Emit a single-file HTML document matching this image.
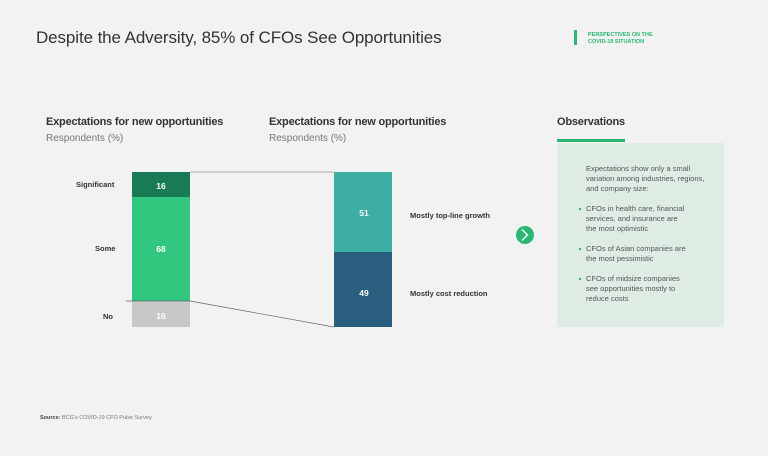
<!DOCTYPE html>
<html><head><style>
body{margin:0;width:768px;height:456px;background:#f2f2f2;font-family:"Liberation Sans",sans-serif;position:relative;overflow:hidden}
div{position:absolute}
.h{font-weight:bold;font-size:11px;color:#333;letter-spacing:-0.2px}
.s{font-size:10px;color:#777}
.l{font-size:7.5px;font-weight:bold;color:#333}
.o{font-size:7.5px;color:#555;line-height:10px}
</style></head><body>
<div style="left:36px;top:28px;font-size:17px;color:#333;letter-spacing:-0.1px">Despite the Adversity, 85% of CFOs See Opportunities</div>
<div style="left:574px;top:30px;width:3px;height:15px;background:#2bb673"></div>
<div style="left:588px;top:32px;font-size:5.5px;font-weight:bold;color:#2bb673;line-height:7px">PERSPECTIVES ON THE<br>COVID-19 SITUATION</div>
<div class="h" style="left:46px;top:116px">Expectations for new opportunities</div>
<div class="s" style="left:46px;top:133px">Respondents (%)</div>
<div class="h" style="left:269px;top:116px">Expectations for new opportunities</div>
<div class="s" style="left:269px;top:133px">Respondents (%)</div>
<div class="l" style="left:76px;top:180px">Significant</div>
<div class="l" style="left:95px;top:244px">Some</div>
<div class="l" style="left:103px;top:312px">No</div>
<svg style="position:absolute;left:0;top:0" width="768" height="456">
<rect x="132" y="172" width="58" height="25" fill="#197a56"/>
<rect x="132" y="197" width="58" height="104" fill="#32c77f"/>
<rect x="132" y="301" width="58" height="26" fill="#c8c8c8"/>
<rect x="334" y="172" width="58" height="80" fill="#3eada3"/>
<rect x="334" y="252" width="58" height="75" fill="#295e7e"/>
<line x1="190" y1="172" x2="334" y2="172" stroke="#999" stroke-width="0.7"/>
<line x1="126" y1="301" x2="190" y2="301" stroke="#666" stroke-width="0.7"/>
<line x1="190" y1="301" x2="334" y2="327" stroke="#666" stroke-width="0.7"/>
<g fill="#fff" font-size="8.5" font-weight="bold" text-anchor="middle" font-family="Liberation Sans">
<text x="161" y="189">16</text><text x="161" y="252">68</text><text x="161" y="319">16</text>
<text x="364" y="216">51</text><text x="364" y="296">49</text></g>
<circle cx="525" cy="235" r="9" fill="#2bb673"/>
<polyline points="522,229.5 527.5,235 522,240.5" fill="none" stroke="#fff" stroke-width="1.3"/>
</svg>
<div class="l" style="left:410px;top:211px">Mostly top-line growth</div>
<div class="l" style="left:410px;top:289px">Mostly cost reduction</div>
<div class="h" style="left:557px;top:116px">Observations</div>
<div style="left:557px;top:139px;width:68px;height:3px;background:#2bb673"></div>
<div style="left:557px;top:143px;width:167px;height:184px;background:#dfece4"></div>
<div class="o" style="left:586px;top:164px">Expectations show only a small<br>variation among industries, regions,<br>and company size:</div>
<div class="o" style="left:586px;top:204px">CFOs in health care, financial<br>services, and insurance are<br>the most optimistic</div>
<div class="o" style="left:586px;top:244px">CFOs of Asian companies are<br>the most pessimistic</div>
<div class="o" style="left:586px;top:274px">CFOs of midsize companies<br>see opportunities mostly to<br>reduce costs</div>
<div style="left:579px;top:208px;width:2px;height:2px;background:#2bb673"></div>
<div style="left:579px;top:248px;width:2px;height:2px;background:#2bb673"></div>
<div style="left:579px;top:278px;width:2px;height:2px;background:#2bb673"></div>
<div style="left:40px;top:415px;font-size:5.5px;color:#777"><b style="color:#444">Source:</b> BCG's COVID-19 CFO Pulse Survey.</div>
</body></html>
